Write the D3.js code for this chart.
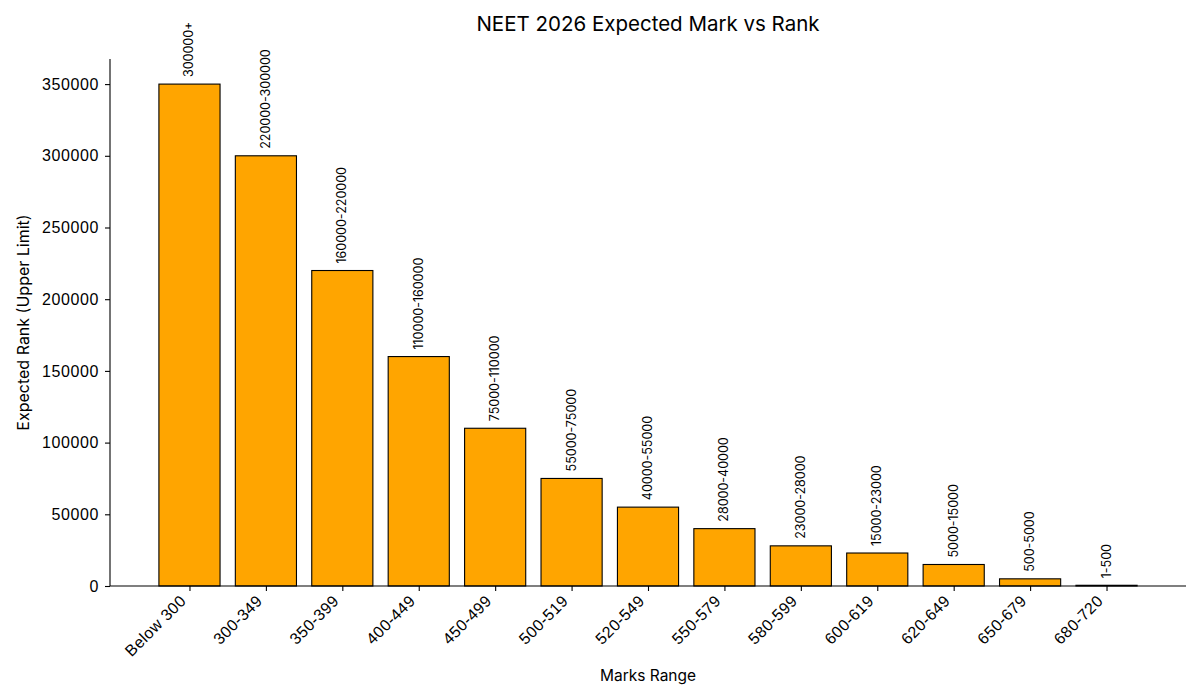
<!DOCTYPE html>
<html>
<head>
<meta charset="utf-8">
<script src="https://cdn.jsdelivr.net/npm/d3@7"></script>
<style>
  body { margin: 0; background: #fff; }
  svg { font-family: Inter, "Noto Sans", sans-serif; }
</style>
</head>
<body>
<svg id="chart" width="1200" height="700"></svg>
<script>
// marks ranges and the expected rank (upper limit) for each
var ranges = ["Below 300", "300-349", "350-399", "400-449", "450-499", "500-519", "520-549",
              "550-579", "580-599", "600-619", "620-649", "650-679", "680-720"];
var ranks = [350000, 300000, 220000, 160000, 110000, 75000, 55000, 40000, 28000, 23000, 15000, 5000, 500];
var rankLabels = ["300000+", "220000-300000", "160000-220000", "110000-160000", "75000-110000",
                  "55000-75000", "40000-55000", "28000-40000", "23000-28000", "15000-23000",
                  "5000-15000", "500-5000", "1-500"];
var yTicks = [0, 50000, 100000, 150000, 200000, 250000, 300000, 350000];

var svg = d3.select("#chart");
var margins = { top: 59, bottom: 114, left: 110, right: 14 };
var width = 1200 - margins.left - margins.right;
var height = 700 - margins.top - margins.bottom;

var barW = 0.8;
var n = ranges.length;
var pad = 0.05 * (n - 1 + barW);
var x = d3.scaleLinear()
    .domain([-barW / 2 - pad, n - 1 + barW / 2 + pad])
    .range([0, width]);
var y = d3.scaleLinear()
    .domain([0, d3.max(ranks) * 1.05])
    .range([height, 0]);

var g = svg.append("g").attr("transform", "translate(" + margins.left + "," + margins.top + ")");

// bars
g.selectAll("rect.bar")
    .data(ranks)
    .enter().append("rect")
    .attr("class", "bar")
    .attr("x", (d, i) => x(i - barW / 2))
    .attr("width", (d, i) => x(i + barW / 2) - x(i - barW / 2))
    .attr("y", d => y(d))
    .attr("height", d => height - y(d))
    .attr("fill", "#FFA500")
    .attr("stroke", "#000")
    .attr("stroke-width", 1.1);

// rank labels above bars
g.selectAll("text.lbl")
    .data(rankLabels)
    .enter().append("text")
    .attr("class", "lbl")
    .attr("transform", (d, i) => "translate(" + (x(i) + 4) + "," + (y(ranks[i]) - 7) + ") rotate(-90)")
    .attr("text-anchor", "start")
    .style("font-size", "12.5px")
    .attr("fill", "#000")
    .text(d => d);

// y axis
var yAxis = g.append("g")
    .call(d3.axisLeft(y).tickValues(yTicks).tickFormat(d3.format("d")).tickSize(5).tickPadding(6));
yAxis.select(".domain").attr("d", "M0," + height + "V0").attr("stroke-width", 1.1);
yAxis.selectAll("text").style("font-size", "16px").style("letter-spacing", "0.6px").attr("fill", "#000");
yAxis.selectAll("line").attr("stroke-width", 1.1);

// x axis
var xAxis = g.append("g")
    .attr("transform", "translate(0," + height + ")")
    .call(d3.axisBottom(x).tickValues(d3.range(n)).tickFormat(i => ranges[i]).tickSize(5));
xAxis.select(".domain").attr("d", "M0,0H" + width).attr("stroke-width", 1.1);
xAxis.selectAll("line").attr("stroke-width", 1.1);
xAxis.selectAll("text")
    .style("font-size", "16px")
    .style("letter-spacing", "0.4px")
    .attr("fill", "#000")
    .attr("text-anchor", "end")
    .attr("x", 0)
    .attr("y", 0)
    .attr("dy", 0)
    .attr("transform", "translate(-3,16) rotate(-45)");

// title
svg.append("text")
    .attr("x", margins.left + width / 2)
    .attr("y", 31)
    .attr("text-anchor", "middle")
    .style("font-size", "20.5px")
    .text("NEET 2026 Expected Mark vs Rank");

// axis labels
svg.append("text")
    .attr("x", margins.left + width / 2)
    .attr("y", 681)
    .attr("text-anchor", "middle")
    .style("font-size", "15.5px")
    .text("Marks Range");

svg.append("text")
    .attr("transform", "translate(29," + (margins.top + height / 2) + ") rotate(-90)")
    .attr("text-anchor", "middle")
    .style("font-size", "16px")
    .text("Expected Rank (Upper Limit)");
</script>
</body>
</html>
